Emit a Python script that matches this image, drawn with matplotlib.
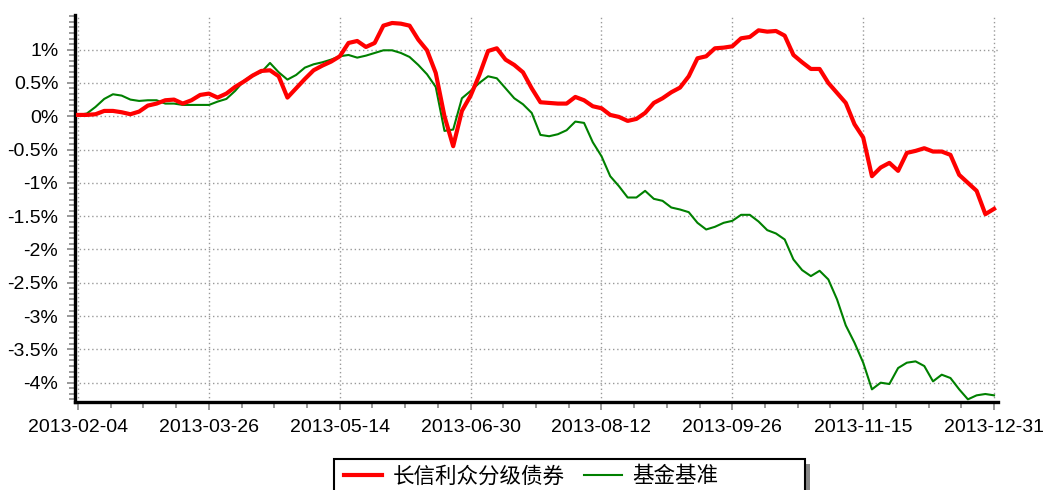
import numpy as np
import matplotlib
matplotlib.use("Agg")
import matplotlib.pyplot as plt
from matplotlib.patches import Rectangle
from matplotlib.ticker import FixedLocator, FixedFormatter, MultipleLocator

plt.rcParams['font.family'] = ['Liberation Sans', 'Noto Sans CJK SC', 'DejaVu Sans']

# trading-day index (every 2nd day), 2013-02-04 .. 2013-12-31
day_idx = np.arange(0, 211, 2)

fund = [
    0.02, 0.02, 0.03, 0.08, 0.08, 0.06, 0.03, 0.07, 0.16, 0.19,
    0.24, 0.25, 0.19, 0.24, 0.32, 0.34, 0.28, 0.34, 0.44, 0.52,
    0.61, 0.68, 0.69, 0.60, 0.28, 0.42, 0.56, 0.69, 0.76, 0.82,
    0.90, 1.10, 1.13, 1.04, 1.10, 1.36, 1.40, 1.39, 1.36, 1.15,
    0.99, 0.65, 0.00, -0.45, 0.08, 0.31, 0.62, 0.98, 1.02, 0.85,
    0.77, 0.66, 0.42, 0.21, 0.20, 0.19, 0.19, 0.29, 0.24, 0.15,
    0.12, 0.02, -0.01, -0.07, -0.04, 0.05, 0.20, 0.27, 0.36, 0.43,
    0.60, 0.87, 0.90, 1.02, 1.03, 1.05, 1.17, 1.19, 1.29, 1.27,
    1.28, 1.21, 0.92, 0.81, 0.71, 0.71, 0.50, 0.35, 0.20, -0.12,
    -0.32, -0.90, -0.77, -0.70, -0.82, -0.55, -0.52, -0.48, -0.53, -0.53,
    -0.58, -0.88, -1.00, -1.12, -1.47, -1.39,
]

bench = [
    0.02, 0.04, 0.14, 0.26, 0.33, 0.31, 0.25, 0.23, 0.24, 0.24,
    0.19, 0.19, 0.17, 0.17, 0.17, 0.17, 0.22, 0.26, 0.38, 0.53,
    0.62, 0.66, 0.80, 0.66, 0.55, 0.62, 0.73, 0.78, 0.81, 0.85,
    0.90, 0.92, 0.88, 0.91, 0.95, 0.99, 0.99, 0.95, 0.89, 0.77,
    0.63, 0.44, -0.22, -0.20, 0.27, 0.38, 0.50, 0.60, 0.57, 0.42,
    0.27, 0.18, 0.05, -0.28, -0.30, -0.27, -0.21, -0.08, -0.10, -0.39,
    -0.60, -0.90, -1.05, -1.22, -1.22, -1.12, -1.24, -1.27, -1.37, -1.40,
    -1.44, -1.60, -1.70, -1.66, -1.60, -1.57, -1.48, -1.48, -1.58, -1.71,
    -1.76, -1.85, -2.15, -2.31, -2.40, -2.32, -2.45, -2.75, -3.14, -3.40,
    -3.70, -4.10, -4.00, -4.02, -3.78, -3.70, -3.68, -3.75, -3.98, -3.88,
    -3.93, -4.10, -4.25, -4.19, -4.17, -4.19,
]

date_ticks = [0, 30, 60, 90, 120, 150, 180, 210]
date_labels = ['2013-02-04', '2013-03-26', '2013-05-14', '2013-06-30',
               '2013-08-12', '2013-09-26', '2013-11-15', '2013-12-31']
pct_ticks = [1, 0.5, 0, -0.5, -1, -1.5, -2, -2.5, -3, -3.5, -4]
pct_labels = ['1%', '0.5%', '0%', '-0.5%', '-1%', '-1.5%', '-2%',
              '-2.5%', '-3%', '-3.5%', '-4%']
series_names = ['长信利众分级债券', '基金基准']

W, H = 1043, 490
fig = plt.figure(figsize=(W / 100, H / 100), dpi=100)
ax = fig.add_axes([75 / W, 1 - 402 / H, (998 - 75) / W, (402 - 15) / H])

ax.plot(day_idx, fund, color='#ff0000', lw=3.0, label=series_names[0], zorder=3)
ax.plot(day_idx, bench, color='#008000', lw=1.5, label=series_names[1], zorder=2)

ax.set_xlim(-0.7, 210.9)
ax.set_ylim(-4.29, 1.52)

ax.xaxis.set_major_locator(FixedLocator(date_ticks))
ax.xaxis.set_major_formatter(FixedFormatter(date_labels))
ax.xaxis.set_minor_locator(MultipleLocator(7.5))
ax.yaxis.set_major_locator(FixedLocator(pct_ticks))
ax.yaxis.set_major_formatter(FixedFormatter(pct_labels))
ax.yaxis.set_minor_locator(MultipleLocator(0.5 / 6))

ax.grid(True, which='major', color='#999999', linestyle=(0, (1, 2)), lw=1.0)
for side in ['top', 'right']:
    ax.spines[side].set_visible(False)
for side in ['left', 'bottom']:
    ax.spines[side].set_linewidth(2.4)
    ax.spines[side].set_color('black')

ax.tick_params(axis='both', which='major', direction='out', color='#888888',
               width=1.2, length=6, labelsize=14, pad=6)
ax.tick_params(axis='both', which='minor', direction='out', color='#888888',
               width=1.2, length=4)

# legend box is wider than its entries, so draw the frame by hand
box_x0, box_x1, box_y0 = 334, 805, 459
fig.patches.append(Rectangle(((box_x0 + 5) / W, -0.02), (box_x1 - box_x0) / W,
                             (H - box_y0 - 5) / H + 0.02, transform=fig.transFigure,
                             facecolor='#888888', edgecolor='none', zorder=1))
fig.patches.append(Rectangle((box_x0 / W, -0.02), (box_x1 - box_x0) / W,
                             (H - box_y0) / H + 0.02, transform=fig.transFigure,
                             facecolor='white', edgecolor='black', lw=1.5, zorder=2))

leg = ax.legend(loc='upper left', bbox_to_anchor=((box_x0 + 4) / W, 1 - (box_y0 + 1) / H),
                bbox_transform=fig.transFigure, ncol=2, frameon=False,
                fontsize=15.5, handlelength=1.75, handletextpad=0.5,
                columnspacing=0.9, borderaxespad=0, borderpad=0.3)
leg.set_zorder(5)
leg.set_figure(fig)
ax.legend_ = None
fig.legends.append(leg)

fig.savefig('out.png', dpi=100)
